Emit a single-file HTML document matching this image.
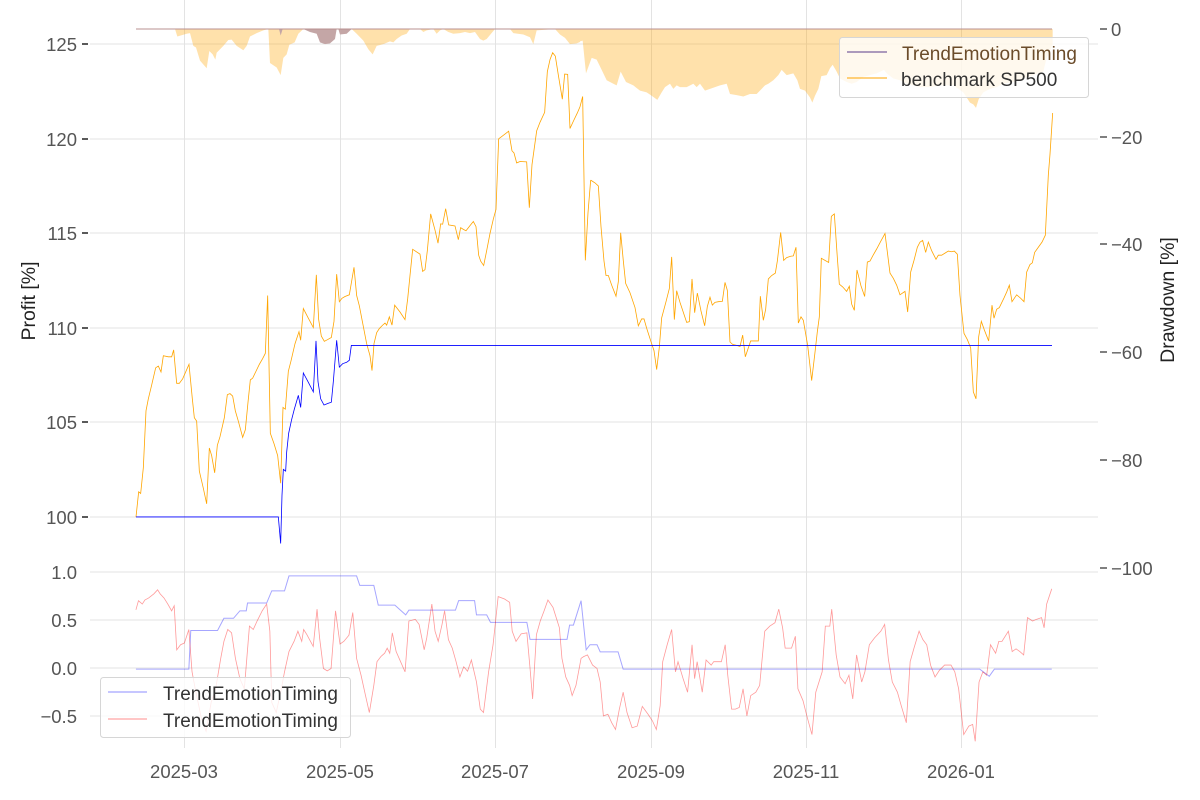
<!DOCTYPE html>
<html><head><meta charset="utf-8"><style>
html,body{margin:0;padding:0;background:#fff;}
svg{display:block;font-family:"Liberation Sans",Arial,sans-serif;}
</style></head><body>
<svg width="1200" height="800" viewBox="0 0 1200 800">
<g stroke="#e3e3e3" stroke-width="1">
<line x1="184.5" y1="0" x2="184.5" y2="748"/><line x1="340.5" y1="0" x2="340.5" y2="748"/><line x1="495.5" y1="0" x2="495.5" y2="748"/><line x1="651.5" y1="0" x2="651.5" y2="748"/><line x1="806.5" y1="0" x2="806.5" y2="748"/><line x1="961.5" y1="0" x2="961.5" y2="748"/>
<line x1="90" y1="44" x2="1098" y2="44"/><line x1="90" y1="139" x2="1098" y2="139"/><line x1="90" y1="233" x2="1098" y2="233"/><line x1="90" y1="328" x2="1098" y2="328"/><line x1="90" y1="422" x2="1098" y2="422"/><line x1="90" y1="517" x2="1098" y2="517"/>
<line x1="90" y1="572" x2="1098" y2="572"/><line x1="90" y1="620" x2="1098" y2="620"/><line x1="90" y1="668" x2="1098" y2="668"/><line x1="90" y1="716" x2="1098" y2="716"/>
</g>
<!-- drawdown areas -->
<g transform="translate(90,20) scale(0.33333,0.34437)">
<polygon fill="#ffa500" fill-opacity="0.33" points="140,26 255,26 262,48 290,40 300,38 310,75 318,80 330,118 350,140 358,90 368,100 376,115 380,95 400,75 415,58 425,57 440,75 460,88 470,75 480,48 500,38 520,30 535,26 540,125 560,138 572,160 580,110 585,105 590,100 598,72 614,65 625,40 640,26 785,26 800,40 820,60 835,85 848,100 860,75 880,70 900,62 910,65 920,55 935,45 950,40 960,26 990,26 1000,35 1010,30 1030,26 1040,40 1050,30 1060,26 1075,35 1090,40 1110,38 1125,35 1140,38 1155,35 1170,55 1180,60 1190,55 1215,26 1260,26 1270,38 1300,42 1320,50 1330,70 1340,30 1395,26 1410,42 1425,52 1440,70 1460,68 1470,64 1470,26"/>
<polygon fill="#c4a6a6" points="567,26 572,45 578,26 640,26 660,35 680,40 690,65 705,70 720,68 735,55 740,26 745,26 750,42 770,40 785,26"/>
</g>
<g transform="translate(580,20) scale(0.33333,0.34437)">
<polygon fill="#ffa500" fill-opacity="0.33" points="0,26 0,62 8,60 18,155 35,110 50,115 65,145 80,175 100,185 110,190 122,150 138,180 160,190 180,205 200,210 215,220 232,232 245,210 255,195 270,185 280,200 290,190 300,195 320,195 340,185 350,195 360,185 375,205 390,200 420,190 440,185 450,215 470,218 490,222 510,215 530,215 545,200 555,190 565,185 580,175 595,160 605,145 620,160 640,155 652,175 660,200 675,205 690,225 697,240 705,220 715,200 724,163 740,160 750,140 758,130 770,150 780,170 800,180 815,185 830,180 850,165 870,160 890,155 912,145 920,155 940,170 960,175 980,185 1000,190 1020,195 1050,195 1080,190 1120,190 1150,210 1170,240 1180,245 1188,255 1196,230 1210,210 1230,200 1250,195 1270,185 1300,180 1330,170 1360,160 1390,150 1400,110 1410,90 1418,70 1418,26"/>
</g>
<line x1="136" y1="29" x2="1052" y2="29" stroke="#b89090" stroke-width="1"/>
<!-- benchmark -->
<g transform="translate(90,20) scale(0.33333,0.34437)" fill="none" stroke="#ffa500">
<polyline vector-effect="non-scaling-stroke" stroke-width="0.8" points="138,1443 146,1370 152,1375 160,1300 168,1135 175,1100 185,1060 197,1010 205,1005 213,1022 220,975 235,978 245,978 251,958 260,1055 268,1055 278,1042 297,1000 307,1100 313,1155 320,1165 328,1310 340,1360 350,1405 358,1243 365,1265 374,1315 382,1235 390,1210 403,1155 412,1088 420,1085 428,1092 436,1135 445,1165 458,1212 466,1190 474,1110 481,1045 488,1040 498,1020 508,1000 518,983 526,968 533,800 541,1200 552,1230 563,1265 572,1345 579,1125 586,1130 595,1020 603,990 615,940 627,905 632,930 640,838 655,866 670,893 679,740 686,870 694,918 703,933 713,928 724,922 732,875 740,738 748,818 756,808 765,803 778,798 792,718 800,800 808,830 818,880 830,940 840,975 846,1018 852,940 860,908 868,896 878,886 885,880 890,886 898,862 906,886 914,828 930,848 945,870 953,810 960,742 968,666 990,680 998,730 1005,725 1012,670 1022,563 1035,610 1044,648 1052,592 1058,593 1067,548 1076,595 1095,598 1105,638 1112,603 1120,608 1128,612 1140,597 1150,585 1158,600 1166,683 1172,700 1181,713 1190,670 1200,620 1210,578 1218,550 1226,345 1240,335 1256,323 1266,380 1272,386 1280,415 1290,411 1310,412 1318,545 1326,420 1340,322 1350,297 1364,268 1372,150 1380,115 1388,95 1396,105 1405,160 1417,230 1424,157 1433,158 1440,315 1452,290 1462,270 1470,252 1478,222 1486,698 1494,560 1502,465"/>
</g>
<g transform="translate(580,20) scale(0.33333,0.34437)" fill="none" stroke="#ffa500">
<polyline vector-effect="non-scaling-stroke" stroke-width="0.8" points="32,465 45,473 55,482 63,600 72,700 78,742 85,742 95,770 108,802 115,760 122,618 130,700 137,765 150,792 165,835 175,888 185,868 192,868 200,895 215,940 222,960 230,1015 238,950 245,865 258,818 268,780 275,688 283,870 290,786 300,820 320,878 328,876 336,752 344,850 352,793 363,845 374,888 382,832 390,805 397,828 405,820 415,818 427,817 435,762 442,785 450,935 458,942 470,945 480,948 488,915 496,978 512,932 535,932 541,802 550,872 557,840 565,752 575,742 586,735 592,700 602,617 611,698 620,690 632,686 640,685 648,660 655,880 663,862 670,872 683,945 695,1047 705,965 712,905 718,862 724,692 735,698 746,704 754,570 763,563 772,690 778,767 788,775 800,788 808,773 815,825 823,843 831,726 843,772 854,803 862,703 870,700 880,682 890,665 902,643 915,620 930,735 940,750 950,770 960,798 975,788 983,848 992,732 1002,698 1012,660 1020,645 1028,640 1037,675 1045,645 1055,670 1068,695 1075,683 1085,683 1095,677 1105,671 1115,673 1123,671 1132,680 1140,800 1152,910 1162,928 1172,952 1180,1080 1188,1100 1196,920 1204,875 1213,900 1226,932 1236,828 1242,866 1250,840 1258,835 1272,807 1280,790 1288,770 1296,818 1310,798 1322,808 1332,818 1340,732 1350,710 1357,705 1364,675 1375,660 1386,645 1396,625 1405,450 1410,390 1418,270"/>
</g>
<!-- strategy -->
<g transform="translate(90,20) scale(0.33333,0.34437)" fill="none" stroke="#0000ff">
<polyline vector-effect="non-scaling-stroke" stroke-width="0.8" points="138,1443 565,1443 572,1520 576,1380 580,1305 587,1310 590,1255 596,1200 605,1160 613,1130 625,1090 632,1125 640,1025 655,1052 670,1080 678,932 684,1050 692,1100 702,1118 715,1113 724,1110 730,1050 740,930 748,1008 758,998 770,994 778,988 784,945 2886,945"/>
</g>
<!-- bottom panel -->
<g transform="translate(90,560) scale(0.63776,0.33898)" fill="none">
<polyline vector-effect="non-scaling-stroke" stroke="#0000ff" stroke-opacity="0.35" stroke-width="1" points="72,322 155,322 158,208 200,208 210,172 225,172 235,150 245,150 247,127 277,127 285,91 305,91 312,47 418,47 423,75 445,75 452,133 478,133 495,162 500,148 573,148 578,120 603,120 606,162 622,162 628,184 685,184 690,234 748,234 752,192 758,192 770,120 778,265 784,250 795,250 800,271 828,271 836,322 1395,322 1410,343 1418,322 1508,322"/>
<polyline vector-effect="non-scaling-stroke" stroke="#ff0000" stroke-opacity="0.4" stroke-width="0.8" points="72,147 76,120 82,130 86,118 92,112 100,100 106,88 110,100 116,112 122,130 128,150 132,135 136,265 142,250 148,245 155,205 160,330 165,380 175,470 182,505 190,420 197,380 205,290 210,240 216,205 222,215 228,290 235,350 242,380 250,195 256,205 262,180 270,150 277,130 282,210 285,420 292,450 300,380 305,330 312,270 320,240 326,210 332,240 335,205 340,220 350,255 356,145 360,230 366,320 372,327 378,320 385,150 392,248 398,240 406,222 412,155 418,290 425,340 432,400 438,450 445,370 450,300 456,285 462,275 466,260 470,275 474,215 480,270 487,300 494,330 500,180 510,175 516,190 524,265 528,230 536,130 541,210 546,240 552,190 556,150 562,235 568,260 574,300 580,345 586,315 592,328 598,295 606,360 612,440 617,450 625,330 632,250 640,108 650,115 658,125 662,210 668,240 676,218 685,215 690,320 694,410 700,220 706,180 712,150 718,118 726,140 736,200 740,290 746,345 752,370 756,400 762,370 770,290 774,285 780,280 788,310 795,320 800,360 805,460 812,455 818,480 824,500 830,440 836,390 842,450 850,495 858,490 866,432 875,455 882,475 888,500 894,430 898,300 905,250 912,205 918,330 922,300 930,350 937,390 944,250 948,350 952,300 960,390 966,295 974,310 978,300 985,300 990,300 996,250 1000,340 1006,440 1012,440 1018,435 1024,380 1030,460 1036,400 1044,390 1050,370 1058,210 1066,195 1074,185 1080,145 1086,200 1090,260 1100,260 1106,225 1110,380 1118,415 1124,460 1132,515 1138,390 1148,330 1153,195 1160,195 1163,145 1170,280 1176,345 1184,365 1190,340 1196,410 1202,280 1210,360 1215,330 1222,250 1230,230 1240,210 1246,190 1252,295 1258,360 1266,390 1272,430 1280,480 1286,300 1292,260 1300,210 1306,235 1312,250 1318,310 1325,345 1332,325 1340,310 1350,310 1356,330 1362,380 1370,515 1378,490 1384,485 1388,535 1394,360 1400,330 1406,340 1412,250 1420,275 1425,240 1430,240 1440,210 1446,270 1452,262 1458,270 1464,280 1470,170 1478,180 1484,175 1492,170 1496,200 1500,130 1508,85"/>
</g>
<!-- ticks -->
<g stroke="#222" stroke-width="1.5">
<line x1="82" y1="44" x2="88" y2="44"/><line x1="82" y1="139" x2="88" y2="139"/><line x1="82" y1="233" x2="88" y2="233"/><line x1="82" y1="328" x2="88" y2="328"/><line x1="82" y1="422" x2="88" y2="422"/><line x1="82" y1="517" x2="88" y2="517"/>
</g>
<g stroke="#555" stroke-width="1.5">
<line x1="1100" y1="29" x2="1107" y2="29"/><line x1="1100" y1="137" x2="1107" y2="137"/><line x1="1100" y1="244" x2="1107" y2="244"/><line x1="1100" y1="352" x2="1107" y2="352"/><line x1="1100" y1="460" x2="1107" y2="460"/><line x1="1100" y1="568" x2="1107" y2="568"/>
</g>
<g fill="#555" font-size="18.5">
<g text-anchor="end">
<text x="77" y="51">125</text><text x="77" y="146">120</text><text x="77" y="240">115</text><text x="77" y="335">110</text><text x="77" y="429">105</text><text x="77" y="524">100</text>
<text x="77" y="579">1.0</text><text x="77" y="627">0.5</text><text x="77" y="675">0.0</text><text x="77" y="723">−0.5</text>
</g>
<text x="1111" y="36">0</text><text x="1111" y="144">−20</text><text x="1111" y="251">−40</text><text x="1111" y="359">−60</text><text x="1111" y="467">−80</text><text x="1111" y="575">−100</text>
<g text-anchor="middle">
<text x="184" y="778">2025-03</text><text x="340" y="778">2025-05</text><text x="495" y="778">2025-07</text><text x="651" y="778">2025-09</text><text x="806" y="778">2025-11</text><text x="961" y="778">2026-01</text>
</g>
</g>
<text transform="translate(35,301) rotate(-90)" text-anchor="middle" font-size="19.5" fill="#222">Profit [%]</text>
<text transform="translate(1174,300) rotate(-90)" text-anchor="middle" font-size="19.5" fill="#222">Drawdown [%]</text>
<!-- legends -->
<rect x="839.5" y="37.5" width="249" height="60" rx="3" fill="#fff" fill-opacity="0.8" stroke="#d6d6d6"/>
<line x1="847" y1="52" x2="887" y2="52" stroke="#5a3a8a" stroke-width="1"/>
<line x1="847" y1="78" x2="887" y2="78" stroke="#ffa500" stroke-width="1"/>
<text x="902" y="60" font-size="19" fill="#6b4c2a">TrendEmotionTiming</text>
<text x="901" y="86" font-size="19" fill="#333">benchmark SP500</text>
<rect x="100.5" y="677.5" width="250" height="60" rx="3" fill="#fff" fill-opacity="0.8" stroke="#d6d6d6"/>
<line x1="108" y1="692" x2="147" y2="692" stroke="#0000ff" stroke-opacity="0.3" stroke-width="1.5"/>
<line x1="108" y1="719" x2="147" y2="719" stroke="#ff0000" stroke-opacity="0.3" stroke-width="1.5"/>
<text x="163" y="700" font-size="19" fill="#333">TrendEmotionTiming</text>
<text x="163" y="727" font-size="19" fill="#333">TrendEmotionTiming</text>
</svg>
</body></html>
